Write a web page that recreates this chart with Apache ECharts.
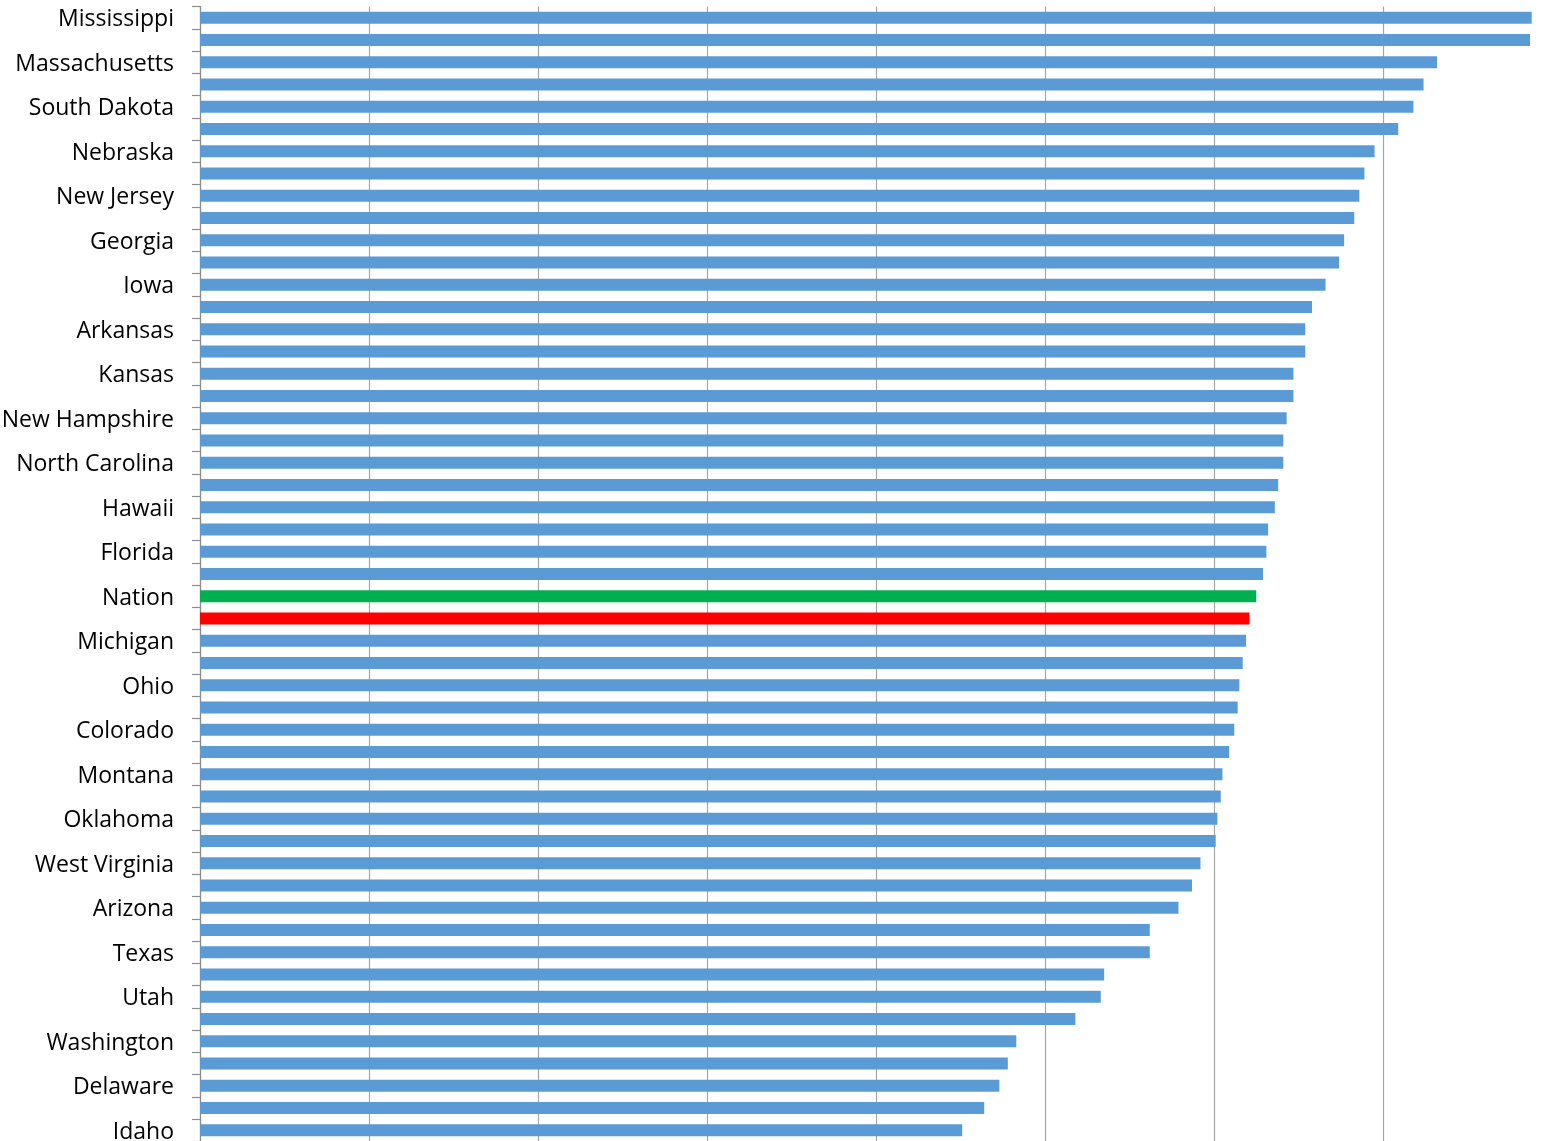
<!DOCTYPE html>
<html>
<head>
<meta charset="utf-8">
<script src="https://cdn.jsdelivr.net/npm/echarts@6/dist/echarts.min.js"></script>
<style>
  html, body { margin: 0; padding: 0; background: #fff; }
  #chart { width: 1550px; height: 1141px; }
</style>
</head>
<body>
<div id="chart"></div>
<script>
// Ranked list, top to bottom; only every other name is printed on the axis.
const categories = [
  'Mississippi', 'Alabama', 'Massachusetts', 'Alaska', 'South Dakota', 'California',
  'Nebraska', 'Connecticut', 'New Jersey', 'Illinois', 'Georgia', 'Indiana',
  'Iowa', 'Kentucky', 'Arkansas', 'Louisiana', 'Kansas', 'Maine',
  'New Hampshire', 'Maryland', 'North Carolina', 'Minnesota', 'Hawaii', 'Missouri',
  'Florida', 'Nevada', 'Nation', 'New Mexico', 'Michigan', 'New York',
  'Ohio', 'North Dakota', 'Colorado', 'Oregon', 'Montana', 'Pennsylvania',
  'Oklahoma', 'Rhode Island', 'West Virginia', 'South Carolina', 'Arizona', 'Tennessee',
  'Texas', 'Vermont', 'Utah', 'Virginia', 'Washington', 'Wisconsin',
  'Delaware', 'Wyoming', 'Idaho'
];

const values = [
  78.8, 78.7, 73.2, 72.4, 71.8, 70.9,
  69.5, 68.9, 68.6, 68.3, 67.7, 67.4,
  66.6, 65.8, 65.4, 65.4, 64.7, 64.7,
  64.3, 64.1, 64.1, 63.8, 63.6, 63.2,
  63.1, 62.9, 62.5, 62.1, 61.9, 61.7,
  61.5, 61.4, 61.2, 60.9, 60.5, 60.4,
  60.2, 60.1, 59.2, 58.7, 57.9, 56.2,
  56.2, 53.5, 53.3, 51.8, 48.3, 47.8,
  47.3, 46.4, 45.1
];

// Highlighted rows
const highlightGreen = 'Nation';
const highlightRed = 'New Mexico';

const xMin = 0;
const xMax = 80;
const xInterval = 10;

const barColor = '#5B9BD5';
const greenColor = '#00B050';
const redColor = '#FF0000';

const chart = echarts.init(document.getElementById('chart'), null, { renderer: 'canvas' });

chart.setOption({
  animation: false,
  backgroundColor: '#ffffff',
  grid: {
    left: 200,
    top: 6.5,
    width: 1352,
    height: 1135,
    containLabel: false,
    outerBoundsMode: 'none'
  },
  xAxis: {
    type: 'value',
    min: xMin,
    max: xMax,
    interval: xInterval,
    axisLine: { show: false },
    axisTick: { show: false },
    axisLabel: { show: false },
    splitLine: { show: true, lineStyle: { color: '#A6A6A6', width: 1.2 } }
  },
  yAxis: {
    type: 'category',
    data: categories,
    inverse: true,
    axisLine: { show: true, lineStyle: { color: '#8C8C8C', width: 1.2 } },
    axisTick: {
      show: true,
      interval: 0,
      length: 8,
      lineStyle: { color: '#8C8C8C', width: 1.2 }
    },
    axisLabel: {
      interval: 1,
      margin: 26,
      formatter: (v) => '{name|' + v + '}',
      rich: {
        name: {
          color: '#000',
          fontSize: 23,
          fontFamily: '"Open Sans", Lato, sans-serif',
          padding: [4, 0, 0, 0]
        }
      }
    },
    splitLine: { show: false }
  },
  series: [{
    type: 'bar',
    barWidth: 12,
    data: values.map((v, i) => ({
      value: v,
      itemStyle: {
        color: categories[i] === highlightGreen ? greenColor
             : categories[i] === highlightRed ? redColor
             : barColor
      }
    }))
  }]
});
</script>
</body>
</html>
